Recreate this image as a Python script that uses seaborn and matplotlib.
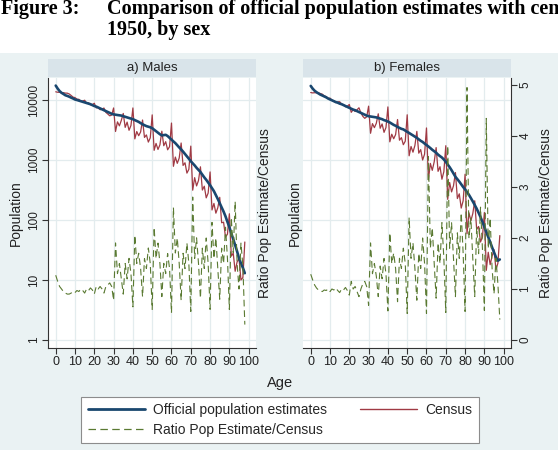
import pandas as pd
import matplotlib
matplotlib.use("Agg")
import matplotlib.pyplot as plt
from matplotlib.lines import Line2D
from matplotlib.patches import Rectangle
from matplotlib.ticker import NullLocator
import seaborn as sns

# ---- data (ages 0..98) ----
ages = list(range(0, 99))

est_male = [17400, 15500, 14100, 13200, 12600, 12000, 11700, 11350, 10950, 10600,
            10200, 10000, 9770, 9550, 9330, 9120, 8910, 8710, 8510, 8220,
            7940, 7760, 7500, 7240, 7000, 6760, 6530, 6310, 6100, 5890,
            5750, 5690, 5620, 5560, 5500, 5370, 5250, 5130, 5010, 4900,
            4790, 4620, 4470, 4320, 4120, 3940, 3800, 3670, 3590, 3510,
            3390, 3200, 3020, 2850, 2690, 2570, 2600, 2630, 2510, 2340,
            2190, 2040, 1910, 1760, 1620, 1500, 1380, 1260, 1150, 1050,
            955, 880, 813, 741, 684, 631, 569, 513, 468, 422,
            380, 339, 302, 260, 224, 191, 162, 138, 115, 93,
            76, 60, 48, 38, 30, 23, 19, 16, 13]

census_male = [13700, 13480, 13430, 13200, 13260, 13040, 13000, 12610, 11900, 11160,
               10970, 10310, 10280, 9550, 9620, 9910, 8910, 8980, 8340, 8390,
               8820, 7390, 7500, 6900, 7000, 7350, 6220, 5840, 5450, 5610,
               7370, 2990, 4320, 3710, 4580, 5970, 3500, 4280, 3130, 3770,
               7370, 2250, 2980, 2540, 2940, 4640, 2380, 2620, 1990, 2340,
               5650, 1450, 1890, 1500, 1790, 3020, 1730, 2020, 1480, 1670,
               4130, 785, 1120, 880, 1080, 1920, 812, 900, 605, 700,
               1705, 314, 508, 370, 456, 770, 316, 366, 234, 281,
               633, 147, 189, 130, 160, 239, 90, 92, 52, 58,
               127, 25, 28, 14, 20, 23, 10, 11, 43]

est_female = [17180, 15490, 14290, 13490, 12880, 12300, 11890, 11480, 11090, 10590,
              10230, 9890, 9550, 9230, 9020, 8710, 8510, 8220, 7940, 7670,
              7410, 7160, 6920, 6760, 6530, 6310, 6100, 5890, 5690, 5500,
              5370, 5310, 5250, 5190, 5130, 5010, 4900, 4790, 4620, 4520,
              4370, 4220, 4030, 3850, 3720, 3550, 3430, 3310, 3240, 3090,
              2950, 2820, 2690, 2570, 2450, 2340, 2210, 2090, 2000, 1880,
              1780, 1680, 1580, 1480, 1400, 1320, 1230, 1160, 1100, 1020,
              933, 841, 759, 676, 596, 525, 479, 437, 394, 355,
              324, 292, 263, 232, 204, 178, 155, 132, 112, 93,
              77, 63, 52, 43, 35, 29, 24, 21, 22]

census_female = [13320, 13130, 13230, 13230, 13140, 12810, 12520, 11710, 11430, 10590,
                 10770, 9890, 9740, 9050, 9300, 9370, 8510, 8390, 7710, 7910,
                 8420, 6230, 6920, 6440, 6870, 7420, 6100, 5350, 4950, 5240,
                 7900, 2790, 4040, 3460, 4100, 5890, 3380, 3990, 2890, 3480,
                 7670, 2010, 2690, 2260, 2660, 4730, 2140, 2360, 1800, 2060,
                 5670, 1175, 1680, 1350, 1750, 3000, 1300, 1490, 1000, 1250,
                 3420, 467, 878, 673, 933, 1610, 647, 773, 478, 638,
                 1730, 221, 422, 294, 373, 618, 228, 273, 158, 209,
                 579, 59, 132, 97, 128, 209, 70, 78, 43, 52,
                 133, 14.5, 29, 18, 25, 32, 15, 19, 55]

panel_titles = ["a) Males", "b) Females"]
x_ticks = list(range(0, 101, 10))
pop_ticks = [1, 10, 100, 1000, 10000]
ratio_ticks = [0, 1, 2, 3, 4, 5]

sns.set_theme(style="white")
plt.rcParams["font.family"] = ["Liberation Sans", "DejaVu Sans"]

BG = "#EAF2F3"
STRIP = "#D9E4EA"
GRID = "#E3ECEE"
NAVY = "#1A476F"
MAROON = "#A03A44"
GREEN = "#5A7A32"
AXC = "#333333"
DASH = (0, (6, 3.5))

W, H = 558, 450
fig = plt.figure(figsize=(W / 100, H / 100), dpi=100, facecolor="white")
fig.add_artist(Rectangle((0, 0), 1, 1 - 53 / H, transform=fig.transFigure,
                         facecolor=BG, edgecolor="none", zorder=-10))


def box(x0, y0, x1, y1):
    return [x0 / W, 1 - y1 / H, (x1 - x0) / W, (y1 - y0) / H]


panels = [
    (est_male, census_male, (48, 78, 256, 348), (48, 59, 256, 77)),
    (est_female, census_female, (303, 78, 511, 348), (303, 59, 511, 77)),
]

for i, (est, census, pbox, sbox) in enumerate(panels):
    df = pd.DataFrame({"age": ages, "est": est, "census": census})
    df["ratio"] = df["est"] / df["census"]   # Ratio Pop Estimate/Census

    ax = fig.add_axes(box(*pbox))
    ax.set_facecolor("white")
    sns.lineplot(data=df, x="age", y="census", ax=ax, color=MAROON, linewidth=0.9)
    sns.lineplot(data=df, x="age", y="est", ax=ax, color=NAVY, linewidth=1.9)
    ax.set_yscale("log")
    ax.set_ylim(0.736, 23270)
    ax.set_yticks(pop_ticks)
    ax.set_yticklabels([str(t) for t in pop_ticks])
    ax.yaxis.set_minor_locator(NullLocator())
    ax.set_xticks(x_ticks)
    ax.grid(True, color=GRID, linewidth=0.9)
    ax.set_axisbelow(True)
    ax.set_xlabel("")
    ax.set_ylabel("")
    for s in ["top", "right"]:
        ax.spines[s].set_visible(False)
    ax.spines["bottom"].set_color(AXC)
    ax.spines["bottom"].set_linewidth(0.8)
    ax.tick_params(axis="x", bottom=True, direction="out", length=4, width=0.8,
                   color=AXC, labelsize=9, labelcolor="#222222", pad=2)

    ax2 = ax.twinx()
    sns.lineplot(data=df, x="age", y="ratio", ax=ax2, color=GREEN,
                 linewidth=0.8, linestyle=DASH)
    ax2.set_ylim(-0.157, 5.137)
    ax2.set_yticks(ratio_ticks)
    ax2.grid(False)
    ax2.set_xlabel("")
    ax2.set_ylabel("")
    for s in ["top", "left", "bottom"]:
        ax2.spines[s].set_visible(False)

    if i == 0:
        ax.spines["left"].set_color(AXC)
        ax.spines["left"].set_linewidth(0.8)
        ax.tick_params(axis="y", left=True, direction="out", length=4, width=0.8,
                       color=AXC, labelsize=8.5, labelcolor="#222222",
                       labelrotation=90, pad=2)
        for lab in ax.get_yticklabels():
            lab.set_va("center")
        ax2.spines["right"].set_visible(False)
        ax2.tick_params(axis="y", right=False, labelright=False)
    else:
        ax.spines["left"].set_visible(False)
        ax.tick_params(axis="y", left=False, labelleft=False)
        ax2.spines["right"].set_color(AXC)
        ax2.spines["right"].set_linewidth(0.8)
        ax2.tick_params(axis="y", right=True, direction="out", length=4, width=0.8,
                        color=AXC, labelsize=8.5, labelcolor="#222222",
                        labelrotation=90, pad=2)
        for lab in ax2.get_yticklabels():
            lab.set_va("center")
    ax.set_xlim(-4, 103.8)

    sax = fig.add_axes(box(*sbox))
    sax.set_facecolor(STRIP)
    sax.set_xticks([])
    sax.set_yticks([])
    for s in sax.spines.values():
        s.set_visible(False)
    sax.text(0.5, 0.5, panel_titles[i], ha="center", va="center",
             fontsize=9.5, color="#222222", transform=sax.transAxes)

# axis titles
for xc in (16, 295):
    fig.text(xc / W, 1 - 213 / H, "Population", rotation=90, ha="center",
             va="center", fontsize=10, color="#222222")
for xc in (265, 546):
    fig.text(xc / W, 1 - 213 / H, "Ratio Pop Estimate/Census", rotation=90,
             ha="center", va="center", fontsize=10, color="#222222")
fig.text(280 / W, 1 - 383 / H, "Age", ha="center", va="center", fontsize=10.5,
         color="#222222")

# legend
handles = [Line2D([], [], color=NAVY, linewidth=2.0),
           Line2D([], [], color=GREEN, linewidth=0.9, linestyle=DASH),
           Line2D([], [], color=MAROON, linewidth=1.0)]
labels = ["Official population estimates", "Ratio Pop Estimate/Census", "Census"]
leg = fig.legend(handles, labels, ncol=2, loc="center",
                 bbox_to_anchor=(280 / W, 1 - 420 / H), frameon=True,
                 fancybox=False, edgecolor="#8C8C8C", facecolor="white",
                 framealpha=1, fontsize=10, handlelength=4.1, handletextpad=0.6,
                 columnspacing=2.4, labelspacing=0.4, borderpad=0.45)
leg.get_frame().set_linewidth(0.8)

# document caption above the graph
serif = ["Liberation Serif", "DejaVu Serif"]
fig.text(1 / W, 1 - 14 / H, "Figure 3:", family=serif, fontweight="bold",
         fontsize=14.5, va="baseline", color="black")
fig.text(107 / W, 1 - 14 / H, "Comparison of official population estimates with census",
         family=serif, fontweight="bold", fontsize=14.5, va="baseline", color="black")
fig.text(107 / W, 1 - 35 / H, "1950, by sex", family=serif, fontweight="bold",
         fontsize=14.5, va="baseline", color="black")

fig.savefig("out.png", dpi=100, facecolor="white")
